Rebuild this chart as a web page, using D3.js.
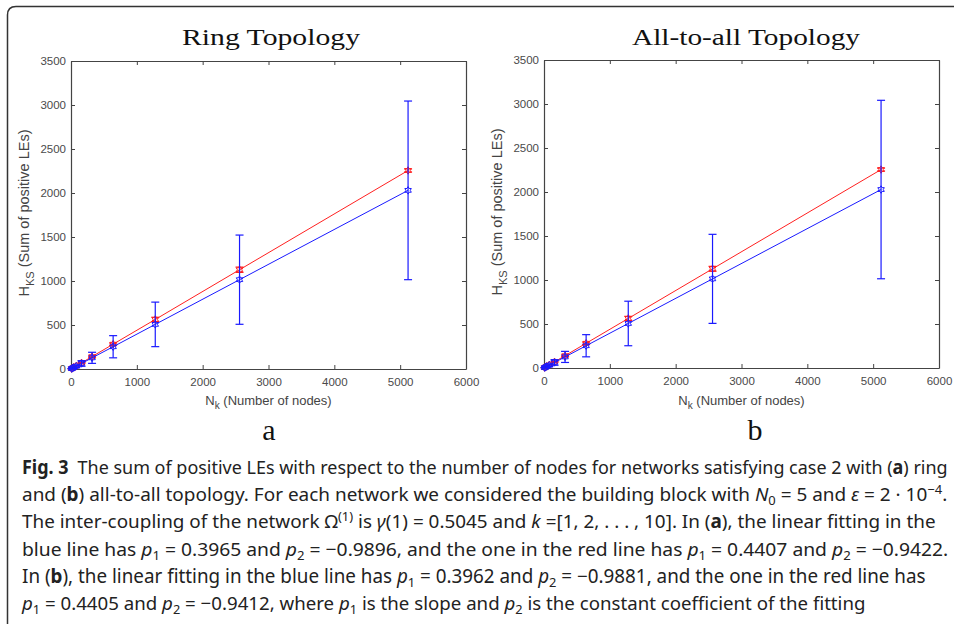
<!DOCTYPE html>
<html>
<head>
<meta charset="utf-8">
<title>Fig. 3</title>
<style>
body {
	margin: 0;
	background: #fff;
}
svg {
	display: block;
}
.tick text {
	font: 11.5px "Liberation Sans", Arial, sans-serif;
	fill: #4a4a4a;
}
.tick line, .domain {
	stroke: #444;
}
</style>
</head>
<body>
<svg></svg>
<script src="https://d3js.org/d3.v7.min.js"></script>
<script>

// N_k = N0 * 2^k, k = 1..10
var nodes = [10, 20, 40, 80, 160, 320, 640, 1280, 2560, 5120];

// (a) ring topology
var ringBlue    = [4, 8, 16, 32, 63, 127, 253, 507, 1015, 2030];
var ringBlueErr = [2, 4, 8, 16, 32, 63, 126, 253, 507, 1015];
var ringRed     = [4, 9, 18, 35, 70, 141, 282, 563, 1128, 2256];
var ringRedErr  = [1, 1, 2, 3, 5, 8, 13, 25, 30, 18];

// (b) all-to-all topology
var allBlue    = [4, 8, 16, 32, 63, 126, 253, 506, 1013, 2028];
var allBlueErr = [2, 4, 8, 16, 32, 63, 126, 253, 506, 1014];
var allRed     = [4, 9, 18, 35, 70, 140, 281, 563, 1127, 2255];
var allRedErr  = [1, 1, 2, 3, 5, 8, 13, 24, 28, 17];

var xTicks = [0, 1000, 2000, 3000, 4000, 5000, 6000];
var yTicks = [0, 500, 1000, 1500, 2000, 2500, 3000, 3500];

var titles  = ["Ring Topology", "All-to-all Topology"];
var letters = ["a", "b"];

var W = 954, H = 624;
var svg = d3.select("svg").attr("width", W).attr("height", H);

// outer frame, open to the right and bottom
svg.append("path")
	.attr("d", "M960,6.5 L16,6.5 Q7.5,6.5 7.5,15 L7.5,630")
	.attr("fill", "none")
	.attr("stroke", "#333")
	.attr("stroke-width", 1.5);

/* layout of the two panels */
var panels = [
	{left: 71, right: 466, bottom: 369, top: 61, titleX: 271, titleW: 178, letterX: 269,
	 blue: ringBlue, blueErr: ringBlueErr, red: ringRed, redErr: ringRedErr},
	{left: 544, right: 939, bottom: 368, top: 60, titleX: 746, titleW: 228, letterX: 755,
	 blue: allBlue, blueErr: allBlueErr, red: allRed, redErr: allRedErr}
];

// MATLAB-like open hexagram marker
var hexagram = {
	draw: function(ctx, size) {
		var R = Math.sqrt(size) / 2, r = R * 0.58;
		for (var i = 0; i < 12; i++) {
			var a = (i * 30 - 90) * Math.PI / 180;
			var rr = i % 2 == 0 ? R : r;
			if (i == 0) ctx.moveTo(rr * Math.cos(a), rr * Math.sin(a));
			else ctx.lineTo(rr * Math.cos(a), rr * Math.sin(a));
		}
		ctx.closePath();
	}
};

var fmt = d3.format("d");

panels.forEach(function(p, k) {
	var x = d3.scaleLinear().domain([0, 6000]).range([p.left, p.right]);
	var y = d3.scaleLinear().domain([0, 3500]).range([p.bottom, p.top]);
	var g = svg.append("g");

	// axes, ticks inward on all four sides
	g.append("g").attr("transform", "translate(0," + p.bottom + ")")
		.call(d3.axisBottom(x).tickValues(xTicks).tickFormat(fmt).tickSize(-4).tickSizeOuter(0).tickPadding(9));
	g.append("g").attr("transform", "translate(0," + p.top + ")")
		.call(d3.axisTop(x).tickValues(xTicks).tickSize(-4).tickSizeOuter(0).tickFormat(""));
	g.append("g").attr("transform", "translate(" + p.left + ",0)")
		.call(d3.axisLeft(y).tickValues(yTicks).tickFormat(fmt).tickSize(-4).tickSizeOuter(0).tickPadding(5));
	g.append("g").attr("transform", "translate(" + p.right + ",0)")
		.call(d3.axisRight(y).tickValues(yTicks).tickSize(-4).tickSizeOuter(0).tickFormat(""));
	g.selectAll(".domain").attr("stroke-width", 1.2);

	// series: red fit first, blue with big error bars on top
	[{v: p.red, e: p.redErr, c: "#ff2020"}, {v: p.blue, e: p.blueErr, c: "#1a1aff"}].forEach(function(s) {
		var pts = nodes.map(function(n, i) { return {n: n, m: s.v[i], e: s.e[i]}; });
		var sg = g.append("g").attr("stroke", s.c).attr("fill", "none");

		sg.append("path")
			.datum(pts)
			.attr("stroke-width", 1)
			.attr("d", d3.line().x(function(d) { return x(d.n); }).y(function(d) { return y(d.m); }));

		var eb = sg.selectAll(".eb").data(pts).enter().append("g").attr("stroke-width", 1.2);
		eb.append("line")
			.attr("x1", function(d) { return x(d.n); })
			.attr("x2", function(d) { return x(d.n); })
			.attr("y1", function(d) { return y(d.m - d.e); })
			.attr("y2", function(d) { return y(d.m + d.e); });
		[-1, 1].forEach(function(sgn) {
			eb.append("line")
				.attr("x1", function(d) { return x(d.n) - 4; })
				.attr("x2", function(d) { return x(d.n) + 4; })
				.attr("y1", function(d) { return y(d.m + sgn * d.e); })
				.attr("y2", function(d) { return y(d.m + sgn * d.e); });
		});

		sg.selectAll(".mk").data(pts).enter().append("path")
			.attr("stroke-width", 1)
			.attr("transform", function(d) { return "translate(" + x(d.n) + "," + y(d.m) + ")"; })
			.attr("d", d3.symbol().type(hexagram).size(56));
	});

	// title (LaTeX style)
	g.append("text")
		.attr("x", p.titleX).attr("y", 45)
		.attr("text-anchor", "middle")
		.attr("textLength", p.titleW).attr("lengthAdjust", "spacingAndGlyphs")
		.style("font", "23px 'Liberation Serif', 'Times New Roman', serif")
		.style("fill", "#111")
		.text(titles[k]);

	// axis labels
	var cx = (p.left + p.right) / 2;
	var xl = g.append("text")
		.attr("x", cx).attr("y", 405)
		.attr("text-anchor", "middle")
		.style("font", "13px 'Liberation Sans', Arial, sans-serif")
		.style("fill", "#444");
	xl.append("tspan").text("N");
	xl.append("tspan").attr("dy", 4).style("font-size", "10px").text("k");
	xl.append("tspan").attr("dy", -4).text(" (Number of nodes)");

	var yl = g.append("text")
		.attr("transform", "translate(" + (p.left - 42) + "," + ((p.top + p.bottom) / 2 - 2) + ") rotate(-90)")
		.attr("text-anchor", "middle")
		.style("font", "14.5px 'Liberation Sans', Arial, sans-serif")
		.style("fill", "#444");
	yl.append("tspan").text("H");
	yl.append("tspan").attr("dy", 4.5).style("font-size", "11px").text("KS");
	yl.append("tspan").attr("dy", -4.5).text(" (Sum of positive LEs)");

	// panel letter
	g.append("text")
		.attr("x", p.letterX).attr("y", 440)
		.attr("text-anchor", "middle")
		.style("font", "30px 'Liberation Serif', 'Times New Roman', serif")
		.style("fill", "#111")
		.text(letters[k]);
});

/************ caption ************/
// segments: [text, style]  b = bold, i = italic, sub / sup
var caption = [
	[["Fig. 3", "b"], ["\u2002The sum of positive LEs with respect to the number of nodes for networks satisfying case 2 with (", ""], ["a", "b"], [") ring", ""]],
	[["and (", ""], ["b", "b"], [") all-to-all topology. For each network we considered the building block with ", ""], ["N", "i"], ["0", "sub"], [" = 5 and ", ""], ["\u03b5", "i"], [" = 2 \u00b7 10", ""], ["\u22124", "sup"], [".", ""]],
	[["The inter-coupling of the network \u03a9", ""], ["(1)", "sup"], [" is ", ""], ["\u03b3", "i"], ["(1) = 0.5045 and ", ""], ["k", "i"], [" =[1, 2, . . . , 10]. In (", ""], ["a", "b"], ["), the linear fitting in the", ""]],
	[["blue line has ", ""], ["p", "i"], ["1", "sub"], [" = 0.3965 and ", ""], ["p", "i"], ["2", "sub"], [" = \u22120.9896, and the one in the red line has ", ""], ["p", "i"], ["1", "sub"], [" = 0.4407 and ", ""], ["p", "i"], ["2", "sub"], [" = \u22120.9422.", ""]],
	[["In (", ""], ["b", "b"], ["), the linear fitting in the blue line has ", ""], ["p", "i"], ["1", "sub"], [" = 0.3962 and ", ""], ["p", "i"], ["2", "sub"], [" = \u22120.9881, and the one in the red line has", ""]],
	[["p", "i"], ["1", "sub"], [" = 0.4405 and ", ""], ["p", "i"], ["2", "sub"], [" = \u22120.9412, where ", ""], ["p", "i"], ["1", "sub"], [" is the slope and ", ""], ["p", "i"], ["2", "sub"], [" is the constant coefficient of the fitting", ""]]
];
var captionEnds = [948, 948, 936, 949, 926, 866];

var capX = 22, capY0 = 474, capStep = 27.2;
caption.forEach(function(line, li) {
	var t = svg.append("text")
		.style("font", "19px 'Noto Sans', 'Open Sans', sans-serif")
		.style("fill", "#222");
	var shift = 0;
	line.forEach(function(seg) {
		var ts = t.append("tspan").text(seg[0]);
		var want = seg[1] == "sub" ? 4 : seg[1] == "sup" ? -7 : 0;
		if (want != shift) { ts.attr("dy", want - shift); shift = want; }
		if (seg[1] == "b") ts.style("font-weight", "bold");
		if (seg[1] == "i") ts.style("font-style", "italic");
		if (seg[1] == "sub" || seg[1] == "sup") ts.style("font-size", "13px");
	});
	var len = t.node().getComputedTextLength();
	var sx = (captionEnds[li] - capX) / len;
	t.attr("transform", "translate(" + capX + "," + (capY0 + li * capStep) + ") scale(" + sx + ",1)");
});

</script>
</body>
</html>
